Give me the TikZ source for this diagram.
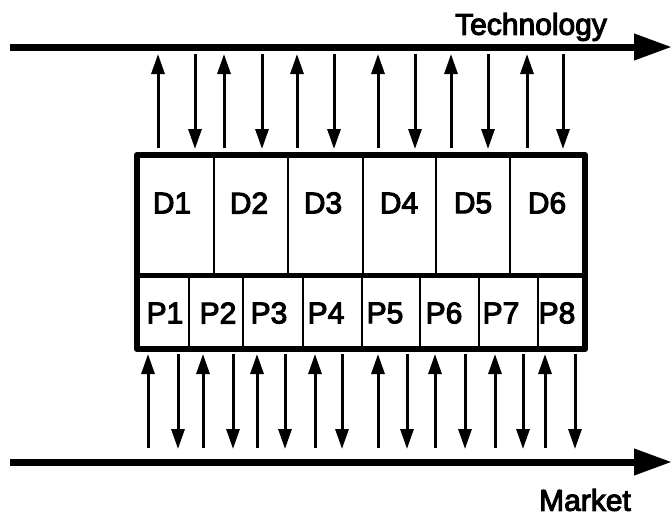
\documentclass[tikz,border=0pt]{standalone}
\usepackage{fontspec}
\setmainfont{Liberation Sans}
\newfontfamily\labfont{Liberation Sans}[FakeBold=3.5]
\usetikzlibrary{arrows.meta}
\tikzset{
  flow/.style={line width=7pt, -{Triangle[length=38pt,width=25pt]}},
  link/.style={line width=3pt, -{Triangle[length=20pt,width=13pt]}},
  lab/.style={font=\fontsize{30}{36}\labfont, inner sep=0pt}
}

\begin{document}
\begin{tikzpicture}[x=1pt, y=-1pt]
        \useasboundingbox (0,0) rectangle (672,520);
        % assi
        \coordinate (techL) at (10,47);
        \coordinate (techR) at (672,47);
        \coordinate (markL) at (10,462);
        \coordinate (markR) at (672,462);
        \draw[flow] (techL) -- (techR);
        \draw[flow] (markL) -- (markR);
        \node[lab] (tech) at (531,27) {Technology};
        \node[lab] (mark) at (585,500) {Market};
        % blocco
        \draw[line width=6.5pt, line join=round] (137,155) rectangle (585,349);
        \draw[line width=5pt] (137,275) -- (585,275);
        \foreach \x in {214,288,363,436,510}
            \draw[line width=2.5pt] (\x,155) -- (\x,275);
        \foreach \x in {189,243,303,362,420,479,538}
            \draw[line width=2.5pt] (\x,275) -- (\x,349);
        \foreach \x/\t in {172/D1,249/D2,323/D3,399/D4,473/D5,547/D6}
            \node[lab] (\t) at (\x,203) {\t};
        \foreach \x/\t in {165/P1,218/P2,269/P3,326/P4,385/P5,444/P6,501/P7,557/P8}
            \node[lab] (\t) at (\x,313) {\t};
        % frecce
        \foreach \x in {158,224,297,378,451,527}
            \draw[link] (\x,148) -- (\x,54);
        \foreach \x in {195,262,334,415,488,563}
            \draw[link] (\x,54) -- (\x,149);
        \foreach \x in {148,203,257,315,378,435,495,545}
            \draw[link] (\x,448) -- (\x,354);
        \foreach \x in {178,233,285,342,407,465,523,575}
            \draw[link] (\x,354) -- (\x,449);
    \end{tikzpicture}
\end{document}
